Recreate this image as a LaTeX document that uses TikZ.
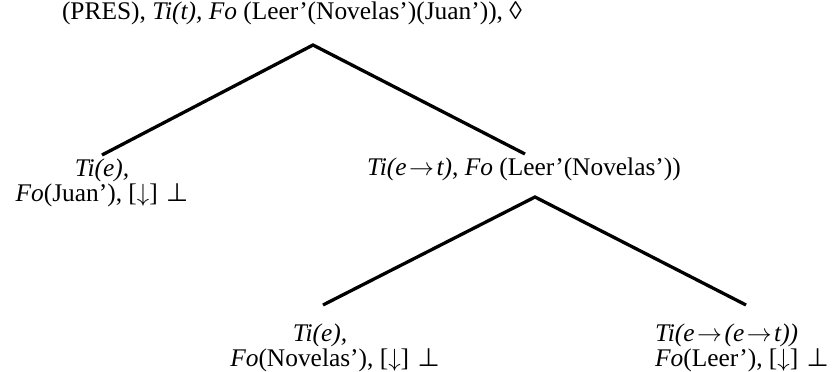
\documentclass[tikz,border=0pt]{standalone}
\usepackage{fontspec}
\setmainfont{Liberation Serif}
\newfontfamily\symfam{DejaVu Sans}
\newcommand\myuptack{\kern2pt{\symfam ⊥}}
\newcommand\myto{\kern2.5pt\ensuremath{\rightarrow}\kern2.5pt}
\newcommand\mydown{\ensuremath{\downarrow}}
\begin{document}
\begin{tikzpicture}[x=1pt,y=1pt,
  lbl/.style={inner sep=0pt, font=\fontsize{25.4}{25}\selectfont},
  branch/.style={line width=3.3pt, line join=miter}]
\useasboundingbox (0,0) rectangle (839,-372);
% text nodes
\node[lbl, anchor=base] (root) at (292,-19.5)
  {(PRES), \textit{Ti(t), Fo} (Leer’(Novelas’)(Juan’)), ◊};
\node[lbl, anchor=base, align=center] (juan) at (102,-201.5)
  {\textit{Ti(e),}\\ \textit{Fo}(Juan’), [\mydown] \myuptack};
\node[lbl, anchor=base] (vp) at (524,-175.5)
  {\textit{Ti(e\myto t)}, \textit{Fo} (Leer’(Novelas’))};
\node[lbl, anchor=base, align=center] (nov) at (335,-366)
  {\textit{Ti(e),}\hspace*{30pt}\\ \textit{Fo}(Novelas’), [\mydown] \myuptack};
\node[lbl, anchor=base west, align=left] (leer) at (655,-366)
  {\textit{Ti(e\myto(e\myto t))}\\ \textit{Fo}(Leer’), [\mydown] \myuptack};
% branch points
\coordinate (a0) at (313,-45);
\coordinate (a1) at (102,-155);
\coordinate (a2) at (525,-154);
\coordinate (b0) at (535,-197);
\coordinate (b1) at (323,-305);
\coordinate (b2) at (746,-305);
\draw[branch] (a1) -- (a0) -- (a2);
\draw[branch] (b1) -- (b0) -- (b2);
\end{tikzpicture}
\end{document}
